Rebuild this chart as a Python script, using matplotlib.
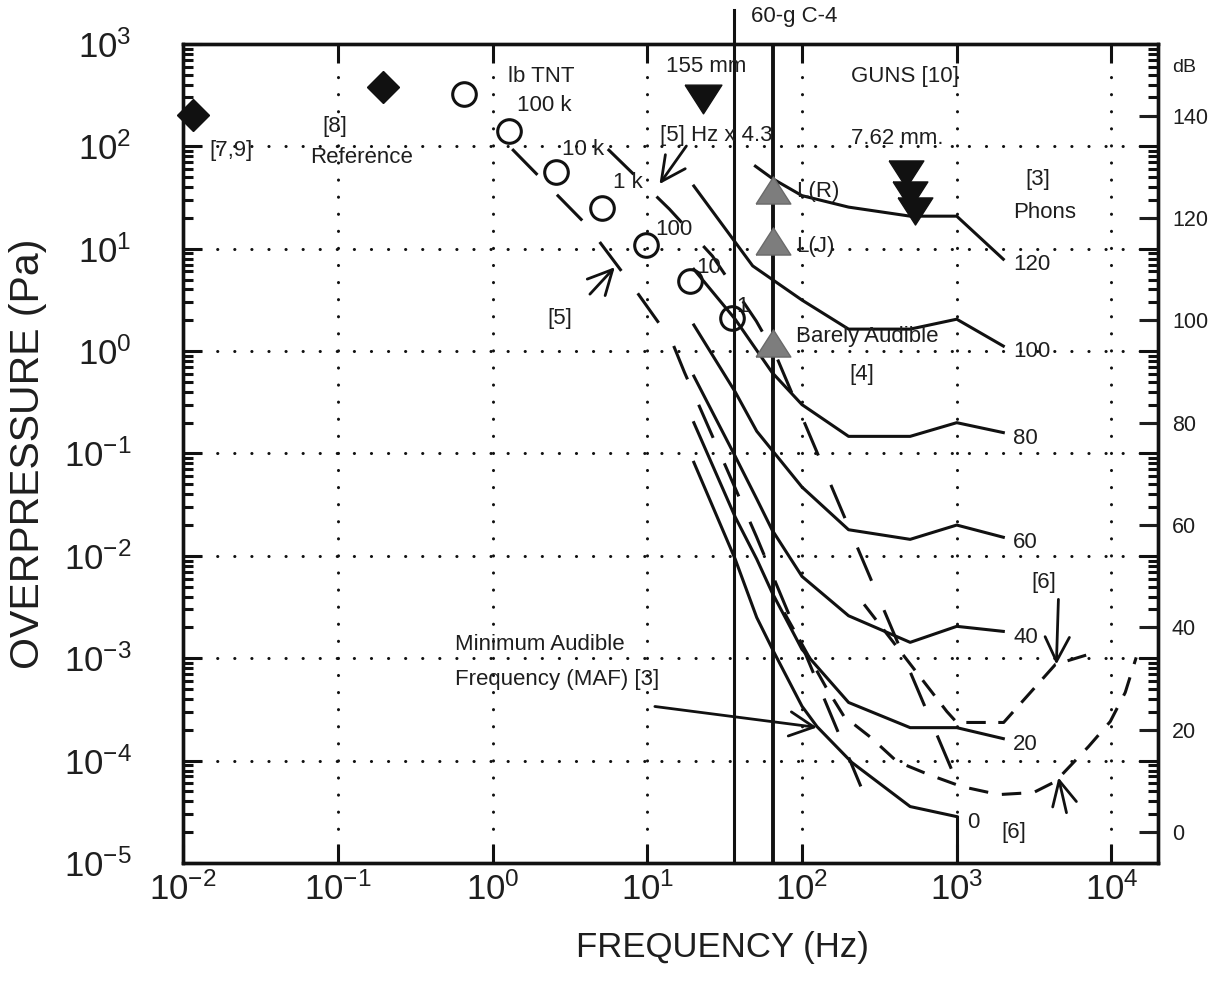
import numpy as np
import matplotlib
matplotlib.use("Agg")
import matplotlib.pyplot as plt
from matplotlib.ticker import LogLocator, NullLocator, FixedLocator, NullFormatter

plt.rcParams['font.family'] = ['Liberation Sans', 'DejaVu Sans']
plt.rcParams['mathtext.fontset'] = 'custom'
plt.rcParams['mathtext.rm'] = 'Liberation Sans'
plt.rcParams['lines.scale_dashes'] = False

INK = '#111111'
TXT = '#1e1e1e'

# equal loudness contours (phons) [3]
phon_labels = ['120', '100', '80', '60', '40', '20', '0']
phon120_f = [50, 65, 100, 200, 500, 1000, 2000]
phon120_p = [64, 48, 33, 25.5, 20.8, 20.8, 7.9]
phon100_f = [20, 48, 100, 200, 500, 1000, 2000]
phon100_p = [41, 6.8, 3.15, 1.64, 1.64, 2.05, 1.12]
phon80_f = [20, 37, 64, 100, 200, 500, 1000, 2000]
phon80_p = [6.3, 2.05, 0.62, 0.30, 0.147, 0.147, 0.20, 0.16]
phon60_f = [20, 37, 51, 100, 200, 500, 1000, 2000]
phon60_p = [1.8, 0.40, 0.165, 0.047, 0.018, 0.0145, 0.020, 0.0152]
phon40_f = [20, 37, 51, 64, 100, 200, 500, 1000, 2000]
phon40_p = [0.57, 0.094, 0.036, 0.018, 0.0063, 0.0026, 0.00143, 0.00205, 0.00183]
phon20_f = [20, 37, 51, 64, 100, 200, 500, 1000, 2000]
phon20_p = [0.20, 0.024, 0.0093, 0.0044, 0.00122, 3.7e-4, 2.1e-4, 2.1e-4, 1.64e-4]
phon0_f = [20, 37, 51, 66, 100, 125, 210, 500, 1000]
phon0_p = [0.082, 0.0093, 0.0025, 0.00114, 3.4e-4, 2.15e-4, 9.6e-5, 3.56e-5, 2.84e-5]

# blast data points
diamond_f = [0.0116, 0.197]
diamond_p = [202, 380]
circle_f = [0.65, 1.28, 2.57, 5.08, 9.8, 18.8, 35.5]
circle_p = [324, 141, 56, 25, 10.8, 4.8, 2.1]
gun155_f = [22.8]
gun155_p = [287]
guns_f = [469, 498, 536]
guns_p = [53.6, 33.4, 23.3]
ref4_f = [65, 65, 65]
ref4_p = [37.4, 11.9, 1.19]
c4_freq = 36.6
ref4_freq = 65

# [5] TNT spectrum and the same shifted by Hz x 4.3, then [4] barely audible
tnt_f = [1.34, 4.13, 7.71, 14.4, 17.4, 50.7, 240]
tnt_p = [94, 16.6, 4.72, 1.25, 0.62, 0.0155, 5.6e-5]
shift_f = [5.56, 13.9, 26.4, 50.7, 68.2, 957]
shift_p = [94.1, 24.4, 8.47, 1.96, 0.891, 7.3e-5]

# [6] thresholds
thr6a_f = [252, 863, 1000, 2010, 4342, 7100]
thr6a_p = [3.36e-3, 3.02e-4, 2.36e-4, 2.36e-4, 8.7e-4, 1.09e-3]
thr6b_f = [76.7, 143, 187, 279, 411, 660, 1077, 1866, 3135, 4342, 7100, 9820, 12270, 14450]
thr6b_p = [2.8e-3, 5.2e-4, 2.7e-4, 1.68e-4, 9.8e-5, 7.3e-5, 5.58e-5, 4.66e-5, 4.88e-5,
           6.25e-5, 1.37e-4, 2.41e-4, 4.63e-4, 1.02e-3]

db_ticks = [0, 20, 40, 60, 80, 100, 120, 140]
freq_ticks = [1e-2, 1e-1, 1e0, 1e1, 1e2, 1e3, 1e4]
pres_ticks = [1e-5, 1e-4, 1e-3, 1e-2, 1e-1, 1e0, 1e1, 1e2, 1e3]

fig = plt.figure(figsize=(12.12, 9.88), dpi=100)
ax = fig.add_axes([0.151, 0.1265, 0.8045, 0.829])
ax.set_xscale('log')
ax.set_yscale('log')

lw = 2.2
phons = [(phon120_f, phon120_p), (phon100_f, phon100_p), (phon80_f, phon80_p),
         (phon60_f, phon60_p), (phon40_f, phon40_p), (phon20_f, phon20_p),
         (phon0_f, phon0_p)]
for (f, p), lab in zip(phons, phon_labels):
    ax.plot(f, p, color=INK, lw=lw, zorder=3)
    ax.text(f[-1] * 1.16, p[-1] * 0.88, lab, fontsize=16, color=TXT,
            ha='left', va='center')
# 0 phon drops to the axis at 1 kHz
ax.plot([phon0_f[-1], phon0_f[-1]], [1e-5, phon0_p[-1]], color=INK, lw=lw, zorder=3)

ax.plot(tnt_f, tnt_p, color=INK, lw=lw, dashes=(26, 20), zorder=3)
ax.plot(shift_f, shift_p, color=INK, lw=lw, dashes=(26, 23), zorder=3)
ax.plot(thr6a_f, thr6a_p, color=INK, lw=lw, dashes=(14, 9), zorder=3)
ax.plot(thr6b_f, thr6b_p, color=INK, lw=lw, dashes=(14, 10), zorder=3)

ax.plot([c4_freq, c4_freq], [1e-5, 2140], color=INK, lw=2.2, clip_on=False, zorder=3)
ax.plot([ref4_freq, ref4_freq], [1e-5, 1e3], color=INK, lw=2.8, zorder=3)

tri_down = [(-1, 0.78), (1, 0.78), (0, -0.78), (-1, 0.78)]
tri_up = [(-1, -0.78), (1, -0.78), (0, 0.78), (-1, -0.78)]
ax.plot(diamond_f, diamond_p, 'D', color=INK, ms=16.5, zorder=5, clip_on=False)
ax.plot(circle_f, circle_p, 'o', mfc='none', mec=INK, ms=17, mew=2.2, zorder=5)
ax.plot(gun155_f, gun155_p, marker=tri_down, ls='none', color=INK, ms=26.5, zorder=5)
ax.plot(guns_f, guns_p, marker=tri_down, ls='none', color=INK, ms=25, zorder=5)
ax.plot(ref4_f, ref4_p, marker=tri_up, ls='none', color='#7d7d7d', mec='#6a6a6a',
        ms=25, zorder=6)

arrow = dict(arrowstyle='->,head_length=0.7,head_width=0.35', lw=2.0, color=INK,
             mutation_scale=25, shrinkA=0, shrinkB=0)
ax.annotate('', xy=(12.0, 42.8), xytext=(17.9, 100.7), arrowprops=arrow)
ax.annotate('', xy=(6.17, 6.6), xytext=(4.26, 3.6), arrowprops=arrow)
ax.annotate('', xy=(4405, 8.7e-4), xytext=(4540, 3.76e-3), arrowprops=arrow)
ax.annotate('', xy=(4540, 6.84e-5), xytext=(5120, 3.1e-5), arrowprops=arrow)
ax.annotate('', xy=(125, 2.11e-4), xytext=(11.2, 3.38e-4), arrowprops=arrow)

fs = 16
notes = [
    (1.26, 486, 'lb TNT'), (1.44, 248, '100 k'), (2.81, 94.1, '10 k'),
    (5.98, 44.8, '1 k'), (11.2, 15.5, '100'), (20.8, 6.6, '10'), (37.7, 2.75, '1'),
    (0.0147, 92, '[7,9]'), (0.0798, 158, '[8]'), (0.0658, 78.6, 'Reference'),
    (13.3, 609, '155 mm'), (12.0, 128, '[5] Hz x 4.3'),
    (207, 486, 'GUNS [10]'), (207, 118, '7.62 mm.'),
    (2786, 47.9, '[3]'), (2328, 22.8, 'Phons'),
    (91.8, 36.5, 'L(R)'), (91.8, 10.6, 'L(J)'), (91.8, 1.40, 'Barely Audible'),
    (201, 0.594, '[4]'), (2.25, 2.10, '[5]'),
    (0.574, 1.36e-3, 'Minimum Audible'), (0.574, 6.2e-4, 'Frequency (MAF) [3]'),
    (3041, 5.5e-3, '[6]'), (1950, 1.98e-5, '[6]'),
]
for f, p, s in notes:
    ax.text(f, p, s, fontsize=fs, color=TXT, ha='left', va='center', zorder=4)
ax.text(47.1, 1836, '60-g C-4', fontsize=fs, color=TXT, ha='left', va='center',
        clip_on=False)

ax.set_xlim(0.01, 2e4)
ax.set_ylim(1e-5, 1e3)

ax.xaxis.set_major_locator(FixedLocator(freq_ticks))
ax.xaxis.set_minor_locator(NullLocator())
ax.yaxis.set_major_locator(FixedLocator(pres_ticks))
ax.yaxis.set_minor_locator(LogLocator(base=10, subs=np.arange(2, 10), numticks=20))
ax.yaxis.set_minor_formatter(NullFormatter())

ax.grid(True, which='major', color=INK, linestyle=(0, (0.1, 12.2)), linewidth=2.2,
        dash_capstyle='round')
ax.set_axisbelow(True)

ax2 = ax.twinx()
ax2.set_yscale('log')
ax2.set_ylim(1e-5, 1e3)
db_p = [2e-5 * 10 ** (d / 20) for d in db_ticks]
ax2.yaxis.set_major_locator(FixedLocator(db_p))
ax2.yaxis.set_minor_locator(NullLocator())
ax2.set_yticklabels([str(d) for d in db_ticks])
ax2.tick_params(axis='y', which='major', direction='in', length=14, width=2.2,
                labelsize=15.5, pad=10, colors=TXT)
ax2.text(1.0144, 0.9707, 'dB', transform=ax.transAxes, fontsize=14, color=TXT,
         ha='left', va='center')

ax.tick_params(axis='both', which='both', direction='in', top=True, right=True,
               width=2.2, color=INK)
ax.tick_params(which='major', length=14)
ax.tick_params(which='minor', length=7.5)
ax.tick_params(axis='y', labelsize=25, pad=37, labelcolor=TXT)
ax.tick_params(axis='x', labelsize=25, pad=7, labelcolor=TXT)
for a in (ax, ax2):
    for sp in a.spines.values():
        sp.set_linewidth(2.4)
        sp.set_color(INK)

ax.set_xlabel('FREQUENCY (Hz)', fontsize=25, color=TXT)
ax.xaxis.set_label_coords(0.553, -0.083)
ax.set_ylabel('OVERPRESSURE (Pa)', fontsize=29.5, color=TXT)
ax.yaxis.set_label_coords(-0.139, 0.5)

fig.savefig('out.png', dpi=100)
